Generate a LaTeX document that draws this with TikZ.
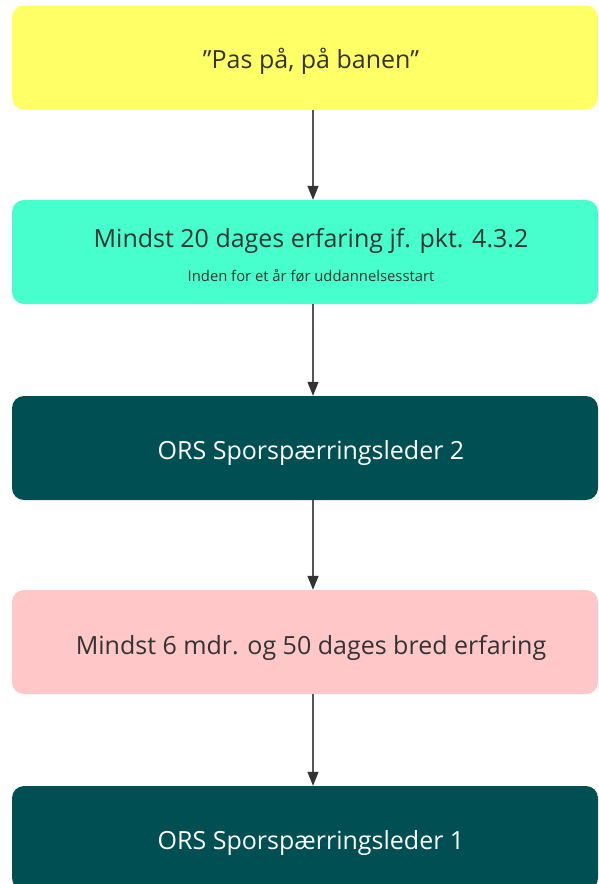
\documentclass[tikz,border=0pt]{standalone}
\usepackage{fontspec}
\setmainfont{Open Sans}
\usetikzlibrary{arrows.meta}
\definecolor{cyellow}{HTML}{FFFF66}
\definecolor{caqua}{HTML}{47FFCC}
\definecolor{cteal}{HTML}{004F52}
\definecolor{cpink}{HTML}{FFC7C7}
\definecolor{ctext}{HTML}{333333}
\definecolor{cline}{HTML}{555555}
\tikzset{
  box/.style={rounded corners=12pt, minimum width=586pt, minimum height=104pt, inner sep=0pt},
  lighttext/.style={text=ctext, anchor=base, inner sep=0pt},
  darktext/.style={text=white, anchor=base, inner sep=0pt},
  main/.style={font=\fontsize{25}{30}\selectfont},
  sub/.style={font=\fontsize{14.8}{18}\selectfont},
  conn/.style={draw=cline, line width=1.2pt, -{Triangle[length=14pt,width=11pt,fill=ctext,color=ctext]}},
}
\begin{document}
\begin{tikzpicture}[x=1pt,y=-1pt]
\useasboundingbox (0,0) rectangle (598,884);
\clip (0,0) rectangle (598,884);
\node[box, fill=cyellow] (b1) at (305,57.5) {};
\node[box, fill=caqua] (b2) at (305,252) {};
\node[box, fill=cteal] (b3) at (305,448) {};
\node[box, fill=cpink] (b4) at (305,642) {};
\node[box, fill=cteal] (b5) at (305,838) {};
\node[main, lighttext] (t1) at (311,68) {”Pas på, på banen”};
\node[main, lighttext] (t2) at (311,247) {Mindst 20 dages erfaring jf. pkt. 4.3.2};
\node[sub, lighttext] (t2b) at (311,281) {Inden for et år før uddannelsesstart};
\node[main, darktext] (t3) at (311,459) {ORS Sporspærringsleder 2};
\node[main, lighttext] (t4) at (311,654) {Mindst 6 mdr. og 50 dages bred erfaring};
\node[main, darktext] (t5) at (311,849) {ORS Sporspærringsleder 1};
\draw[conn] (b1.south -| 313,0) -- (b2.north -| 313,0);
\draw[conn] (b2.south -| 313,0) -- (b3.north -| 313,0);
\draw[conn] (b3.south -| 313,0) -- (b4.north -| 313,0);
\draw[conn] (b4.south -| 313,0) -- (b5.north -| 313,0);
\end{tikzpicture}
\end{document}
